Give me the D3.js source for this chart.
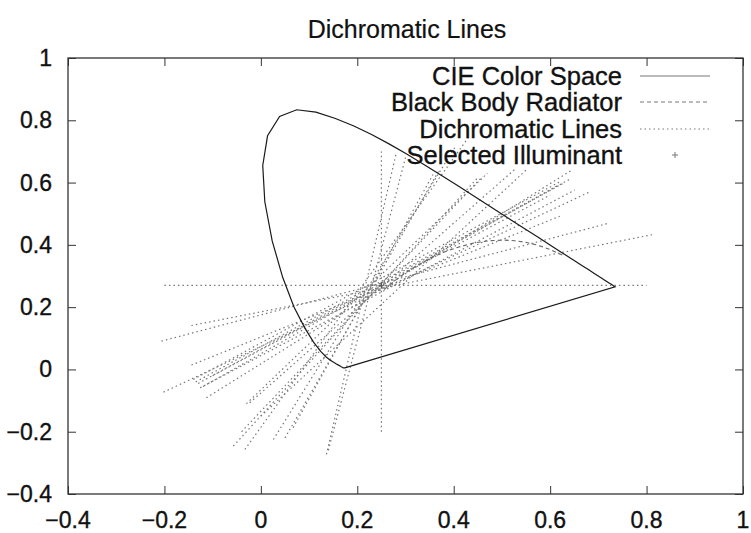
<!DOCTYPE html>
<html>
<head>
<meta charset="utf-8">
<script src="https://cdn.jsdelivr.net/npm/d3@7"></script>
<style>
  body { margin: 0; background: #fff; }
  svg { display: block; font-family: "Liberation Sans", Arial, Helvetica, sans-serif; }
  .axis path, .axis line { stroke: #333; }
  .lbl { fill: #111; stroke: #111; stroke-width: 0.35px; }
</style>
</head>
<body>
<div id="chart"></div>
<script>
// CIE 1931 spectral locus, 380..700 nm every 5 nm
const cieX = [0.1741, 0.1740, 0.1738, 0.1736, 0.1733, 0.1730, 0.1726, 0.1721, 0.1714, 0.1703,
  0.1689, 0.1669, 0.1644, 0.1611, 0.1566, 0.1510, 0.1440, 0.1355, 0.1241, 0.1096,
  0.0913, 0.0687, 0.0454, 0.0235, 0.0082, 0.0039, 0.0139, 0.0389, 0.0743, 0.1142,
  0.1547, 0.1929, 0.2296, 0.2658, 0.3016, 0.3373, 0.3731, 0.4087, 0.4441, 0.4788,
  0.5125, 0.5448, 0.5752, 0.6029, 0.6270, 0.6482, 0.6658, 0.6801, 0.6915, 0.7006,
  0.7079, 0.7140, 0.7190, 0.7230, 0.7260, 0.7283, 0.7300, 0.7311, 0.7320, 0.7327,
  0.7334, 0.7340, 0.7344, 0.7346, 0.7347, 0.1741];
const cieY = [0.0050, 0.0050, 0.0049, 0.0049, 0.0048, 0.0048, 0.0048, 0.0048, 0.0051, 0.0058,
  0.0069, 0.0086, 0.0109, 0.0138, 0.0177, 0.0227, 0.0297, 0.0399, 0.0578, 0.0868,
  0.1327, 0.2007, 0.2950, 0.4127, 0.5384, 0.6548, 0.7502, 0.8120, 0.8338, 0.8262,
  0.8059, 0.7816, 0.7543, 0.7243, 0.6923, 0.6589, 0.6245, 0.5896, 0.5547, 0.5202,
  0.4866, 0.4544, 0.4242, 0.3965, 0.3725, 0.3514, 0.3340, 0.3197, 0.3083, 0.2993,
  0.2920, 0.2859, 0.2809, 0.2770, 0.2740, 0.2717, 0.2700, 0.2689, 0.2680, 0.2673,
  0.2666, 0.2660, 0.2656, 0.2654, 0.2653, 0.0050];

// Planckian locus, 1200 K .. 25000 K
const bbX = [0.6251, 0.5985, 0.5857, 0.5732, 0.5492, 0.5267, 0.5058, 0.4770, 0.4517, 0.4369,
  0.4053, 0.3805, 0.3608, 0.3451, 0.3325, 0.3221, 0.3135, 0.3064, 0.2952, 0.2869,
  0.2807, 0.2719, 0.2637, 0.2565, 0.2526];
const bbY = [0.3674, 0.3858, 0.3931, 0.3993, 0.4082, 0.4133, 0.4152, 0.4137, 0.4086, 0.4041,
  0.3907, 0.3768, 0.3636, 0.3516, 0.3411, 0.3318, 0.3237, 0.3166, 0.3048, 0.2956,
  0.2883, 0.2776, 0.2671, 0.2573, 0.2519];

// dichromatic lines: start and end points
const lineStart = [[-0.20, 0.27], [0.25, -0.20], [-0.144, 0.141], [-0.206, 0.091], [-0.144, 0.014],
  [-0.202, -0.073], [-0.14, -0.032], [-0.13, -0.045], [-0.12, -0.055], [-0.126, -0.059],
  [-0.113, -0.091], [-0.023, -0.107], [-0.057, -0.246], [-0.04, -0.20], [-0.033, -0.257],
  [0.026, -0.225], [0.067, -0.187], [0.136, -0.273], [-0.10, -0.02], [0.0, -0.15],
  [0.05, -0.22], [0.14, -0.26], [-0.135, -0.04], [-0.03, -0.11]];
const lineEnd = [[0.80, 0.27], [0.25, 0.70], [0.813, 0.433], [0.72, 0.469], [0.62, 0.492],
  [0.682, 0.570], [0.623, 0.605], [0.63, 0.60], [0.615, 0.59], [0.651, 0.576],
  [0.647, 0.642], [0.53, 0.647], [0.45, 0.616], [0.46, 0.62], [0.43, 0.744],
  [0.402, 0.712], [0.357, 0.626], [0.281, 0.696], [0.60, 0.56], [0.55, 0.64],
  [0.37, 0.64], [0.30, 0.68], [0.64, 0.61], [0.47, 0.63]];

const illuminant = [0.25, 0.27];

const xTicks = [-0.4, -0.2, 0, 0.2, 0.4, 0.6, 0.8, 1];
const yTicks = [-0.4, -0.2, 0, 0.2, 0.4, 0.6, 0.8, 1];
const legendLabels = ['CIE Color Space', 'Black Body Radiator', 'Dichromatic Lines', 'Selected Illuminant'];

const width = 751;
const height = 533;
const margin = { top: 58, right: 8, bottom: 39, left: 68 };
const innerW = width - margin.left - margin.right;
const innerH = height - margin.top - margin.bottom;

const svg = d3.select('#chart').append('svg')
  .attr('width', width)
  .attr('height', height);

const x = d3.scaleLinear().domain([-0.4, 1]).range([margin.left, margin.left + innerW]);
const y = d3.scaleLinear().domain([-0.4, 1]).range([margin.top + innerH, margin.top]);
const fmt = d => d3.format('')(+d.toFixed(1));

// plus marker path
const plus = s => `M${-s},0H${s}M0,${-s}V${s}`;

// title
svg.append('text')
  .attr('class', 'lbl')
  .attr('x', 407).attr('y', 29)
  .attr('dy', '0.35em')
  .attr('text-anchor', 'middle')
  .attr('font-size', 25)
  .style('stroke-width', '0.2px')
  .text('Dichromatic Lines');

// axes (ticks pointing inward, mirrored)
const tickLen = 8;
svg.append('g').attr('class', 'axis')
  .attr('transform', `translate(0,${margin.top + innerH})`)
  .call(d3.axisTop(x).tickValues(xTicks).tickSize(tickLen).tickFormat(''))
  .call(g => g.select('.domain').remove());
svg.append('g').attr('class', 'axis')
  .attr('transform', `translate(0,${margin.top})`)
  .call(d3.axisBottom(x).tickValues(xTicks).tickSize(tickLen).tickFormat(''))
  .call(g => g.select('.domain').remove());
svg.append('g').attr('class', 'axis')
  .attr('transform', `translate(${margin.left},0)`)
  .call(d3.axisRight(y).tickValues(yTicks).tickSize(tickLen).tickFormat(''))
  .call(g => g.select('.domain').remove());
svg.append('g').attr('class', 'axis')
  .attr('transform', `translate(${margin.left + innerW},0)`)
  .call(d3.axisLeft(y).tickValues(yTicks).tickSize(tickLen).tickFormat(''))
  .call(g => g.select('.domain').remove());

// tick labels
svg.append('g').selectAll('text')
  .data(xTicks).enter().append('text')
  .attr('class', 'lbl')
  .attr('x', d => x(d))
  .attr('y', margin.top + innerH + 34)
  .attr('text-anchor', 'middle')
  .attr('font-size', 23)
  .text(fmt);
svg.append('g').selectAll('text')
  .data(yTicks).enter().append('text')
  .attr('class', 'lbl')
  .attr('x', 52)
  .attr('y', d => y(d))
  .attr('dy', '0.35em')
  .attr('text-anchor', 'end')
  .attr('font-size', 23)
  .text(fmt);

const plot = svg.append('g');

// dichromatic lines
plot.selectAll('.dichro')
  .data(lineStart.map((s, i) => [s, lineEnd[i]]))
  .enter().append('line')
  .attr('class', 'dichro')
  .attr('x1', d => x(d[0][0])).attr('y1', d => y(d[0][1]))
  .attr('x2', d => x(d[1][0])).attr('y2', d => y(d[1][1]))
  .attr('stroke', '#777')
  .attr('stroke-width', 1.2)
  .attr('stroke-dasharray', '1.5,3');

// black body
const line = d3.line().x(d => x(d[0])).y(d => y(d[1]));
plot.append('path')
  .datum(bbX.map((v, i) => [v, bbY[i]]))
  .attr('d', line)
  .attr('fill', 'none')
  .attr('stroke', '#666')
  .attr('stroke-width', 1.1)
  .attr('stroke-dasharray', '4,3');

// CIE horseshoe
plot.append('path')
  .datum(cieX.map((v, i) => [v, cieY[i]]))
  .attr('d', line)
  .attr('fill', 'none')
  .attr('stroke', '#1a1a1a')
  .attr('stroke-width', 1.2);

// selected illuminant
plot.append('path')
  .attr('d', plus(3))
  .attr('transform', `translate(${x(illuminant[0])},${y(illuminant[1])})`)
  .attr('fill', 'none')
  .attr('stroke', '#555');

// frame
svg.append('rect')
  .attr('x', margin.left).attr('y', margin.top)
  .attr('width', innerW).attr('height', innerH)
  .attr('fill', 'none')
  .attr('stroke', '#333')
  .attr('stroke-width', 1.3);

// legend
const legend = svg.append('g');
const rowY = [76, 102, 129, 155];
legendLabels.forEach((label, i) => {
  legend.append('text')
    .attr('class', 'lbl')
    .attr('x', 622).attr('y', rowY[i])
    .attr('dy', '0.35em')
    .attr('text-anchor', 'end')
    .attr('font-size', 25.5)
    .text(label);
});
legend.append('line').attr('x1', 640).attr('x2', 710).attr('y1', rowY[0]).attr('y2', rowY[0])
  .attr('stroke', '#777').attr('stroke-width', 1);
legend.append('line').attr('x1', 640).attr('x2', 710).attr('y1', rowY[1]).attr('y2', rowY[1])
  .attr('stroke', '#777').attr('stroke-dasharray', '4,3');
legend.append('line').attr('x1', 640).attr('x2', 710).attr('y1', rowY[2]).attr('y2', rowY[2])
  .attr('stroke', '#777').attr('stroke-dasharray', '1.5,3');
legend.append('path')
  .attr('d', plus(3))
  .attr('transform', `translate(675,${rowY[3]})`)
  .attr('fill', 'none')
  .attr('stroke', '#777');
</script>
</body>
</html>
